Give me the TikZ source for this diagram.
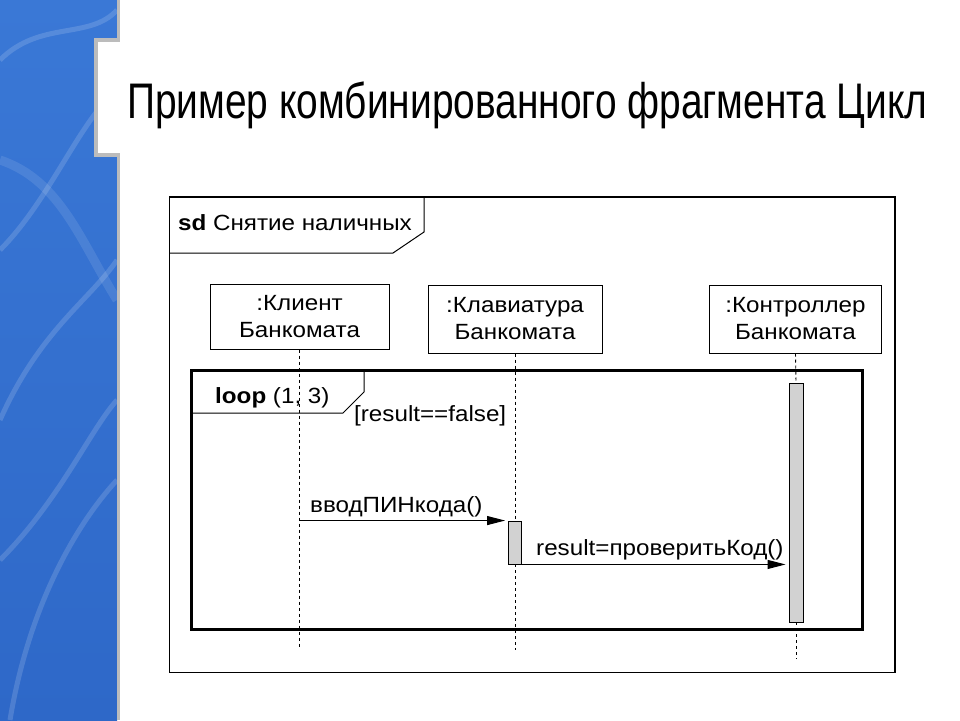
\documentclass[tikz,border=0pt]{standalone}
\usepackage{fontspec}
\setmainfont{Liberation Sans}
\newfontfamily\diagfont[FakeStretch=1.1]{Liberation Sans}
\usepackage{graphicx}
\usetikzlibrary{arrows.meta}
\definecolor{stripblue}{RGB}{58,120,214}
\definecolor{stripdark}{RGB}{46,104,200}
\definecolor{stripgray}{RGB}{188,188,188}
\definecolor{actgray}{RGB}{210,210,210}
\tikzset{
  lbox/.style={draw, line width=1pt, align=center, inner sep=0pt,
    font=\diagfont\fontsize{22}{27}\selectfont},
  lbl/.style={inner sep=0pt, font=\diagfont\fontsize{22}{26}\selectfont},
  actbar/.style={draw, line width=0.9pt, fill=actgray, inner sep=0pt},
  life/.style={line width=0.9pt, dash pattern=on 3pt off 3pt},
  msg/.style={line width=1pt, -{Triangle[length=18pt,width=9pt]}, shorten >=3pt},
  wave/.style={white, opacity=0.15, line width=5pt},
}
\begin{document}
\begin{tikzpicture}[x=1pt,y=-1pt]
\useasboundingbox (0,0) rectangle (960,720);
\fill[white] (0,0) rectangle (960,720);
% left decorative strip
\shade[top color=stripblue, bottom color=stripdark] (0,0) rectangle (117,720);
\draw[wave] (0,60) .. controls (40,20) and (90,40) .. (117,10);
\draw[wave] (0,250) .. controls (50,200) and (80,120) .. (117,90);
\draw[wave] (0,420) .. controls (40,330) and (90,300) .. (117,260);
\draw[wave] (10,720) .. controls (30,600) and (80,520) .. (117,480);
\draw[wave] (0,560) .. controls (60,500) and (90,430) .. (117,400);
\draw[wave, opacity=0.1, line width=9pt] (0,160) .. controls (60,180) and (80,240) .. (117,300);
% notch
\fill[white] (95,40) rectangle (120,155);
\draw[stripgray, line width=3.5pt] (118.5,0) -- (118.5,40) -- (96,40) -- (96,155) -- (118.5,155) -- (118.5,720);
% title
\node[anchor=base west, inner sep=0pt] (title) at (127,118)
  {\resizebox{800pt}{\height}{\fontsize{50}{56}\selectfont Пример комбинированного фрагмента Цикл}};
% outer frame
\draw[line width=1.2pt] (169.5,197) rectangle (895,672.5);
\draw[line width=1pt] (169.5,253) -- (393,253) -- (424,232) -- (424,197);
\node[lbl, anchor=base west] (sdlbl) at (178,230) {\textbf{sd} Снятие наличных};
% lifeline heads
\node[lbox, minimum width=179pt, minimum height=65pt] (cli) at (299.5,316.5) {:Клиент\\Банкомата};
\node[lbox, minimum width=174pt, minimum height=68pt] (kbd) at (515,319) {:Клавиатура\\Банкомата};
\node[lbox, minimum width=172pt, minimum height=68pt] (ctl) at (795.5,319) {:Контроллер\\Банкомата};
% activation bars
\node[actbar, minimum width=13pt, minimum height=43pt] (kbar) at (515,542.5) {};
\node[actbar, minimum width=14pt, minimum height=239pt] (cbar) at (796,502.5) {};
% lifeline ends
\coordinate (cliend) at (299.5,648);
\coordinate (kbdend) at (515,650);
\coordinate (ctlend) at (796,659);
% lifelines
\draw[life] (cli.south) -- (cliend);
\draw[life] (kbd.south) -- (kbar.north);
\draw[life] (kbar.south) -- (kbdend);
\draw[life] (ctl.south) -- (cbar.north);
\draw[life] (cbar.south) -- (ctlend);
% loop fragment
\draw[line width=3pt] (191,370) rectangle (862,629);
\draw[line width=1pt] (191,413) -- (343,413) -- (364,392) -- (364,370);
\node[lbl, anchor=base west] (looplbl) at (215,403) {\textbf{loop} (1, 3)};
\node[lbl, anchor=base west] (guard) at (354,421) {[result==false]};
% redraw bars over lines
\node[actbar, minimum width=13pt, minimum height=43pt] at (kbar) {};
\node[actbar, minimum width=14pt, minimum height=239pt] at (cbar) {};
% messages
\draw[msg] (cli.south |- kbar.north west) -- (kbar.north west);
\node[lbl, anchor=base west] (m1) at (310,512) {вводПИНкода()};
\draw[msg] (kbar.south east) -- (kbar.south east -| cbar.west);
\node[lbl, anchor=base west] (m2) at (536,555) {result=проверитьКод()};
\end{tikzpicture}
\end{document}
